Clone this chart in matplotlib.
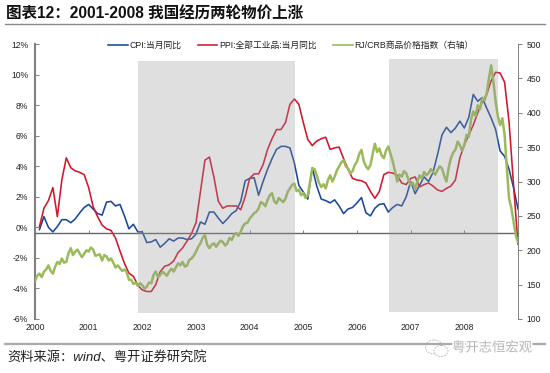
import matplotlib
matplotlib.use('Agg')
import matplotlib.pyplot as plt
import matplotlib.patheffects as pe
from matplotlib.patches import Ellipse
import numpy as np

plt.rcParams['font.family'] = ['Liberation Sans', 'Noto Sans CJK SC', 'DejaVu Sans']

# monthly year-on-year values (Feb 2000 onwards)
cpi = [-0.15, 0.7, 0.0, -0.3, 0.05, 0.5, 0.5, 0.3, 0.55, 0.95, 1.3, 1.5,
       1.2, 0.9, 0.8, 1.65, 1.7, 1.4, 1.5, 0.75, -0.1, 0.2, -0.3, -0.3,
       -1.0, -0.95, -0.8, -1.3, -1.05, -0.75, -0.9, -0.7, -0.7, -0.8, -0.75, -0.45,
       0.35, 0.2, 1.0, 1.0, 0.6, 0.25, 0.55, 0.9, 1.1, 1.7, 3.05, 3.2,
       3.25, 2.1, 3.0, 3.8, 4.5, 5.1, 5.3, 5.3, 5.2, 4.2, 2.75, 2.3,
       1.85, 3.9, 2.7, 1.85, 1.75, 1.6, 1.8, 1.4, 0.9, 1.2, 1.3, 1.6,
       1.95, 0.95, 0.75, 1.25, 1.5, 1.55, 1.0, 1.3, 1.5, 1.4, 2.0, 3.0,
       2.2, 2.75, 3.3, 3.0, 3.6, 4.75, 6.05, 6.55, 6.2, 6.5, 6.95, 6.5,
       7.2, 8.7, 8.25, 8.5, 7.8, 7.15, 6.4, 5.0, 4.65, 3.8, 2.6, 1.2]
ppi = [0.05, 1.25, 1.75, 2.6, 0.7, 3.1, 4.55, 3.9, 3.7, 3.6, 3.45, 2.6,
       1.35, 0.7, 0.15, -0.1, -0.2, -0.7, -1.55, -2.35, -3.0, -3.2, -3.8, -4.1,
       -4.2, -4.2, -3.75, -2.9, -2.55, -2.45, -2.2, -1.65, -1.35, -0.9, -0.4, 0.3,
       2.35, 4.4, 4.6, 3.3, 1.7, 1.25, 1.4, 1.4, 1.4, 1.15, 2.0, 3.2,
       3.5, 3.5, 4.1, 5.1, 5.8, 6.4, 6.4, 6.85, 8.05, 8.4, 8.05, 6.85,
       5.75, 5.35, 5.65, 5.8, 5.9, 5.1, 5.2, 5.25, 4.5, 3.8, 3.2, 3.1,
       3.05, 2.9, 2.35, 1.9, 2.35, 3.45, 3.6, 3.55, 3.4, 2.9, 2.8, 3.2,
       3.3, 2.65, 2.8, 2.9, 2.7, 2.45, 2.35, 2.55, 2.7, 3.1, 4.55, 5.4,
       6.05, 6.7, 7.5, 8.2, 8.7, 9.6, 10.15, 10.1, 9.5, 6.9, 2.8, -1.1]
# commodity index, two readings a month, from Jan 2000
crb = [155, 163, 166, 161, 169, 172, 178, 170, 166, 176, 183, 180, 188, 182, 183, 196,
       203, 193, 198, 201, 195, 190, 195, 200, 198, 204, 201, 192, 193, 194, 185, 193,
       191, 185, 188, 182, 175, 178, 174, 170, 172, 168, 157, 157, 151, 153, 148, 152,
       149, 144, 147, 153, 152, 164, 169, 161, 164, 169, 166, 163, 169, 173, 169, 175,
       181, 178, 183, 176, 178, 186, 188, 192, 198, 205, 210, 218, 222, 208, 203, 208,
       210, 205, 210, 214, 212, 207, 210, 218, 215, 222, 225, 221, 227, 235, 239, 240,
       246, 250, 254, 256, 261, 270, 268, 264, 273, 280, 283, 271, 268, 276, 273, 270,
       275, 285, 290, 295, 297, 286, 288, 280, 283, 276, 280, 300, 319, 318, 309, 298,
       292, 296, 290, 302, 309, 300, 307, 316, 322, 328, 331, 322, 319, 312, 315, 324,
       329, 340, 346, 330, 322, 318, 324, 340, 355, 343, 348, 338, 334, 345, 351, 340,
       329, 315, 300, 310, 307, 315, 312, 303, 295, 298, 288, 300, 309, 304, 314, 309,
       312, 318, 314, 310, 317, 322, 319, 308, 300, 320, 334, 342, 346, 358, 353, 345,
       353, 368, 365, 390, 402, 395, 411, 405, 421, 418, 428, 450, 469, 445, 416, 395,
       382, 392, 368, 320, 275, 262, 242, 222, 212]

years = [2000, 2001, 2002, 2003, 2004, 2005, 2006, 2007, 2008]
left_ticks = [-6, -4, -2, 0, 2, 4, 6, 8, 10, 12]
right_ticks = [100, 150, 200, 250, 300, 350, 400, 450, 500]
shaded = [(2001.92, 2004.84), (2006.6, 2008.63)]

W, H = 550, 373
fig = plt.figure(figsize=(W / 100, H / 100), dpi=100)

# overlay in pixel coordinates for the title, source and rules
page = fig.add_axes([0, 0, 1, 1])
page.set_xlim(0, W)
page.set_ylim(H, 0)
page.axis('off')
page.text(6, 14, '图表12：2001-2008 我国经历两轮物价上涨', fontsize=11.2, fontweight='bold',
          va='center', color='#111111')
page.plot([5, 545], [23.5, 23.5], color='#8a8a8a', lw=1.0)
page.plot([5, 545], [344, 344], color='#aaaaaa', lw=1.6)
page.text(7, 357, '资料来源：wind、粤开证券研究院', fontsize=9.5, style='italic', va='center', color='#222222')

# watermark
page.add_patch(Ellipse((434, 347), 17, 14, fc='white', ec='#c4c4c4', lw=0.7, ls=(0, (2, 1))))
page.add_patch(Ellipse((441, 351), 14, 11, fc='white', ec='#c4c4c4', lw=0.7, ls=(0, (2, 1))))
page.text(452, 348, '粤开志恒宏观', fontsize=9.6, va='center', color='#b5b5b5',
          path_effects=[pe.withStroke(linewidth=2.5, foreground='white')])

ax = fig.add_axes([35 / W, (H - 319) / H, 483 / W, 275 / H])
ax.patch.set_alpha(0)
ax2 = ax.twinx()

x_month = 2000 + np.arange(1, len(cpi) + 1) / 12
x_crb = 2000 + np.arange(len(crb)) / 24

l1, = ax.plot(x_month, cpi, color='#17479E', lw=1.15, label='CPI:当月同比')
l2, = ax.plot(x_month, ppi, color='#D2152B', lw=1.15, label='PPI:全部工业品:当月同比')
l3, = ax2.plot(x_crb, crb, color='#9BBB59', lw=1.8, label='RJ/CRB商品价格指数（右轴）')

# shaded periods sit over the lines and fade them a little
ax2.axvspan(shaded[0][0], shaded[0][1], ymin=0.022, ymax=0.939, color='#999999', alpha=0.31, lw=0, zorder=5)
ax2.axvspan(shaded[1][0], shaded[1][1], ymin=0.025, ymax=0.944, color='#999999', alpha=0.31, lw=0, zorder=5)

ax.set_xlim(2000, 2009)
ax.set_ylim(-6, 12)
ax2.set_ylim(100, 500)

ax.set_yticks(left_ticks)
ax.set_yticklabels([f'{v}%' for v in left_ticks])
ax2.set_yticks(right_ticks)
ax.set_xticks(years)

for s in ['top', 'right']:
    ax.spines[s].set_visible(False)
for s in ['top', 'left', 'bottom']:
    ax2.spines[s].set_visible(False)
ax.spines['left'].set_color('#808080')
ax.spines['left'].set_linewidth(1.5)
ax2.spines['right'].set_color('#808080')
ax2.spines['right'].set_linewidth(0.7)
# the horizontal axis line runs just under the 0% mark
ax.spines['bottom'].set_position(('data', -0.35))
ax.spines['bottom'].set_color('#666666')
ax.spines['bottom'].set_linewidth(1.0)

ax.tick_params(axis='y', direction='in', length=3, width=0.7, color='#808080', labelsize=6.2,
               labelcolor='#222222', pad=5)
ax2.tick_params(axis='y', direction='out', length=3, width=0.7, color='#808080', labelsize=6.2,
                labelcolor='#222222', pad=3)
ax.tick_params(axis='x', direction='in', length=2.5, width=0.7, color='#808080', labelsize=6.2,
               labelcolor='#222222', pad=65)

page_leg = ax2.legend(handles=[l1, l2, l3], loc='upper left', bbox_to_anchor=(0.152, 1.011), ncol=3,
                      frameon=False, fontsize=6.3, handlelength=2.2, handletextpad=0.2,
                      columnspacing=1.9, labelcolor='#222222', borderpad=0, borderaxespad=0)
page_leg.get_lines()[2].set_linewidth(1.2)
page_leg.set_zorder(10)

fig.savefig('out.png', dpi=100)
